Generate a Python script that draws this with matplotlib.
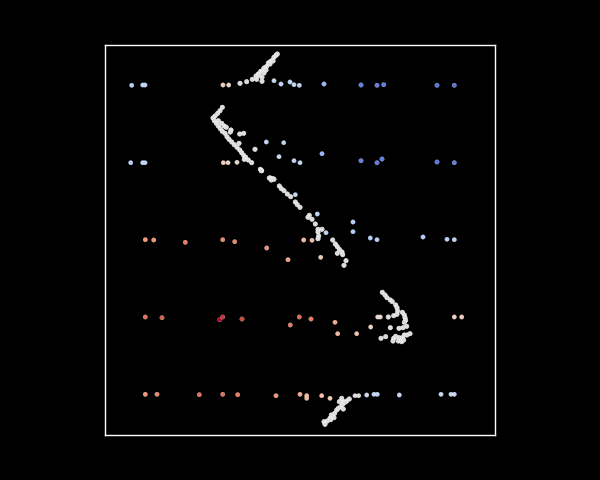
import matplotlib
matplotlib.use("Agg")
import matplotlib.pyplot as plt

# ---- grouped points (x, y in plot units; c = colour value 0..1 on coolwarm) ----
row1_x = [131.7, 142.7, 145.0, 223.0, 228.7, 274.0, 281.0, 290.0, 294.0, 299.3, 324.0, 361.0, 377.0, 383.7, 437.0, 454.3]
row1_y = [85.3, 85.0, 85.0, 85.0, 85.0, 80.7, 84.0, 82.0, 84.7, 85.3, 84.0, 85.0, 85.3, 84.7, 85.3, 85.3]
row1_c = [0.37, 0.39, 0.39, 0.60, 0.56, 0.41, 0.39, 0.39, 0.39, 0.39, 0.27, 0.12, 0.11, 0.12, 0.09, 0.09]

row2_x = [130.7, 142.7, 145.0, 223.3, 228.0, 237.0, 279.0, 294.0, 300.0, 322.0, 361.0, 377.0, 382.0, 437.0, 454.3,
          266.3, 283.7, 295.3, 317.3, 326.0]
row2_y = [162.7, 162.7, 162.7, 162.7, 162.7, 162.3, 156.7, 160.7, 162.7, 153.7, 160.7, 162.7, 159.0, 162.0, 162.7,
          142.0, 142.7, 194.7, 214.0, 232.7]
row2_c = [0.37, 0.39, 0.39, 0.60, 0.56, 0.53, 0.41, 0.39, 0.39, 0.27, 0.12, 0.11, 0.12, 0.10, 0.11,
          0.39, 0.39, 0.41, 0.41, 0.39]

row3_x = [145.3, 153.7, 185.3, 222.7, 234.7, 266.7, 288.0, 303.7, 312.0, 320.7, 353.0, 353.0, 370.3, 377.0, 423.0, 447.0, 454.3]
row3_y = [239.7, 240.0, 242.3, 239.7, 241.7, 248.0, 259.7, 240.0, 240.3, 257.3, 222.0, 231.7, 238.0, 239.7, 237.0, 239.3, 239.7]
row3_c = [0.76, 0.76, 0.82, 0.80, 0.80, 0.76, 0.72, 0.66, 0.66, 0.61, 0.36, 0.36, 0.36, 0.36, 0.36, 0.36, 0.38]

row4_x = [145.3, 162.0, 219.7, 222.7, 242.0, 290.3, 299.3, 311.0, 335.0, 337.7, 356.7, 370.7, 377.7, 380.3, 454.3, 461.7]
row4_y = [317.0, 317.7, 319.7, 317.0, 319.0, 325.0, 317.0, 319.0, 322.3, 333.7, 333.7, 327.0, 317.0, 317.0, 317.0, 317.0]
row4_c = [0.84, 0.88, 1.00, 0.95, 0.92, 0.82, 0.86, 0.82, 0.72, 0.67, 0.65, 0.57, 0.55, 0.55, 0.59, 0.59]

row5_x = [145.3, 157.0, 199.3, 222.7, 237.7, 276.0, 300.0, 306.7, 306.7, 321.7, 330.0, 355.0, 358.7, 366.7, 374.0, 377.3, 399.3, 441.0, 451.0, 454.3]
row5_y = [394.3, 394.3, 394.7, 394.3, 394.7, 395.7, 394.3, 395.7, 398.3, 395.7, 398.3, 395.7, 395.7, 395.0, 394.3, 394.3, 395.0, 394.3, 394.3, 394.3]
row5_c = [0.76, 0.80, 0.84, 0.84, 0.82, 0.76, 0.72, 0.67, 0.67, 0.65, 0.61, 0.50, 0.50, 0.43, 0.41, 0.41, 0.41, 0.41, 0.41, 0.41]

# ---- the white trajectory ----
curve_top_x = [240.0, 246.7, 252.3, 256.7, 256.0, 258.3, 260.7, 262.7, 264.0, 266.7, 268.3, 270.7, 272.7, 274.0, 276.0, 277.3,
               262.0, 262.0, 259.3, 264.0, 266.0, 270.0, 273.0]
curve_top_y = [83.3, 81.7, 79.3, 79.3, 76.0, 74.0, 71.3, 70.7, 68.0, 66.3, 63.0, 61.3, 60.0, 57.3, 55.3, 54.0,
               77.3, 81.3, 75.3, 73.0, 70.0, 64.0, 61.0]

curve_bend_x = [222.3, 220.0, 217.7, 215.0, 213.0, 214.3, 216.3, 218.3, 220.3, 222.3, 225.0, 227.0, 229.0, 231.7, 234.3,
                237.0, 239.7, 241.7, 243.7, 245.7, 248.3, 251.7, 244.3, 218.3, 221.7, 224.3, 226.3, 231.0, 230.3,
                239.7, 243.7, 239.0, 255.0, 260.3, 261.7, 270.3, 273.0]
curve_bend_y = [107.3, 110.7, 113.3, 116.0, 118.0, 120.7, 123.3, 126.0, 128.7, 131.3, 133.3, 136.7, 139.3, 142.0, 144.7,
                147.3, 150.0, 152.7, 155.3, 157.3, 160.0, 162.7, 159.3, 120.7, 123.3, 126.0, 127.3, 130.0, 132.0,
                134.0, 133.3, 143.3, 149.3, 169.3, 170.7, 178.0, 178.7]

curve_mid_x = [261.3, 269.3, 271.3, 274.0, 279.3, 281.3, 284.0, 287.3, 290.7, 295.3, 297.3, 300.0, 309.3, 308.0, 312.0,
               315.3, 318.0, 322.0, 318.0, 318.7, 318.0, 332.7, 335.3, 337.3, 339.3, 342.0, 342.7, 337.3, 346.0, 344.0]
curve_mid_y = [170.7, 178.0, 180.0, 179.3, 186.0, 188.7, 190.7, 194.0, 196.7, 202.0, 204.7, 207.3, 215.3, 217.3, 219.3,
               224.0, 229.3, 229.3, 232.0, 236.0, 238.7, 240.0, 244.0, 246.7, 249.3, 252.0, 254.7, 253.3, 260.7, 265.3]

curve_hook_x = [382.3, 385.0, 387.0, 390.3, 392.3, 395.7, 397.0, 397.7, 402.3, 404.3, 405.0, 405.7, 404.3, 406.7, 403.0,
                399.0, 390.3, 388.3, 393.7, 397.0, 381.0, 385.7, 393.7, 395.7, 399.0, 402.3, 404.3, 407.0, 410.0,
                398.3, 401.7, 393.0, 403.7]
curve_hook_y = [292.3, 295.0, 297.7, 300.0, 301.7, 305.0, 307.7, 311.0, 312.3, 315.0, 317.7, 320.3, 322.3, 326.3, 327.7,
                328.3, 327.7, 317.0, 315.7, 314.3, 338.3, 336.7, 338.3, 336.3, 337.7, 337.7, 335.0, 335.0, 333.7,
                341.0, 341.7, 341.0, 340.0]

curve_bottom_x = [324.0, 325.0, 327.3, 330.0, 330.7, 331.3, 334.7, 336.7, 338.3, 340.7, 342.7, 343.3, 346.7, 349.3,
                  341.7, 339.3, 345.0, 343.3, 334.0]
curve_bottom_y = [421.7, 424.3, 421.0, 418.3, 419.7, 415.0, 413.3, 410.0, 408.3, 406.7, 404.3, 401.7, 401.0, 399.0,
                  398.3, 401.7, 402.3, 409.0, 417.7]
curve_c = 0.5

fig = plt.figure(figsize=(6, 4.8), dpi=100, facecolor="black")
ax = fig.add_axes([0.175, 0.09375, 0.65, 0.8125])
ax.set_facecolor("black")

rows_x = row1_x + row2_x + row3_x + row4_x + row5_x
rows_y = row1_y + row2_y + row3_y + row4_y + row5_y
rows_c = row1_c + row2_c + row3_c + row4_c + row5_c

cx = curve_top_x + curve_bend_x + curve_mid_x + curve_hook_x + curve_bottom_x
cy = curve_top_y + curve_bend_y + curve_mid_y + curve_hook_y + curve_bottom_y

ax.scatter(cx, cy, c=[curve_c] * len(cx), s=10, cmap="coolwarm", vmin=0, vmax=1,
           edgecolors="#f7f7f7", linewidths=0.4)
ax.scatter(rows_x, rows_y, c=rows_c, s=10, cmap="coolwarm", vmin=0, vmax=1,
           edgecolors="white", linewidths=0.15)

ax.set_xlim(105, 495)
ax.set_ylim(435, 45)
ax.set_xticks([])
ax.set_yticks([])
for sp in ax.spines.values():
    sp.set_color("white")
    sp.set_linewidth(1)

fig.savefig("out.png", dpi=100, facecolor="black")
